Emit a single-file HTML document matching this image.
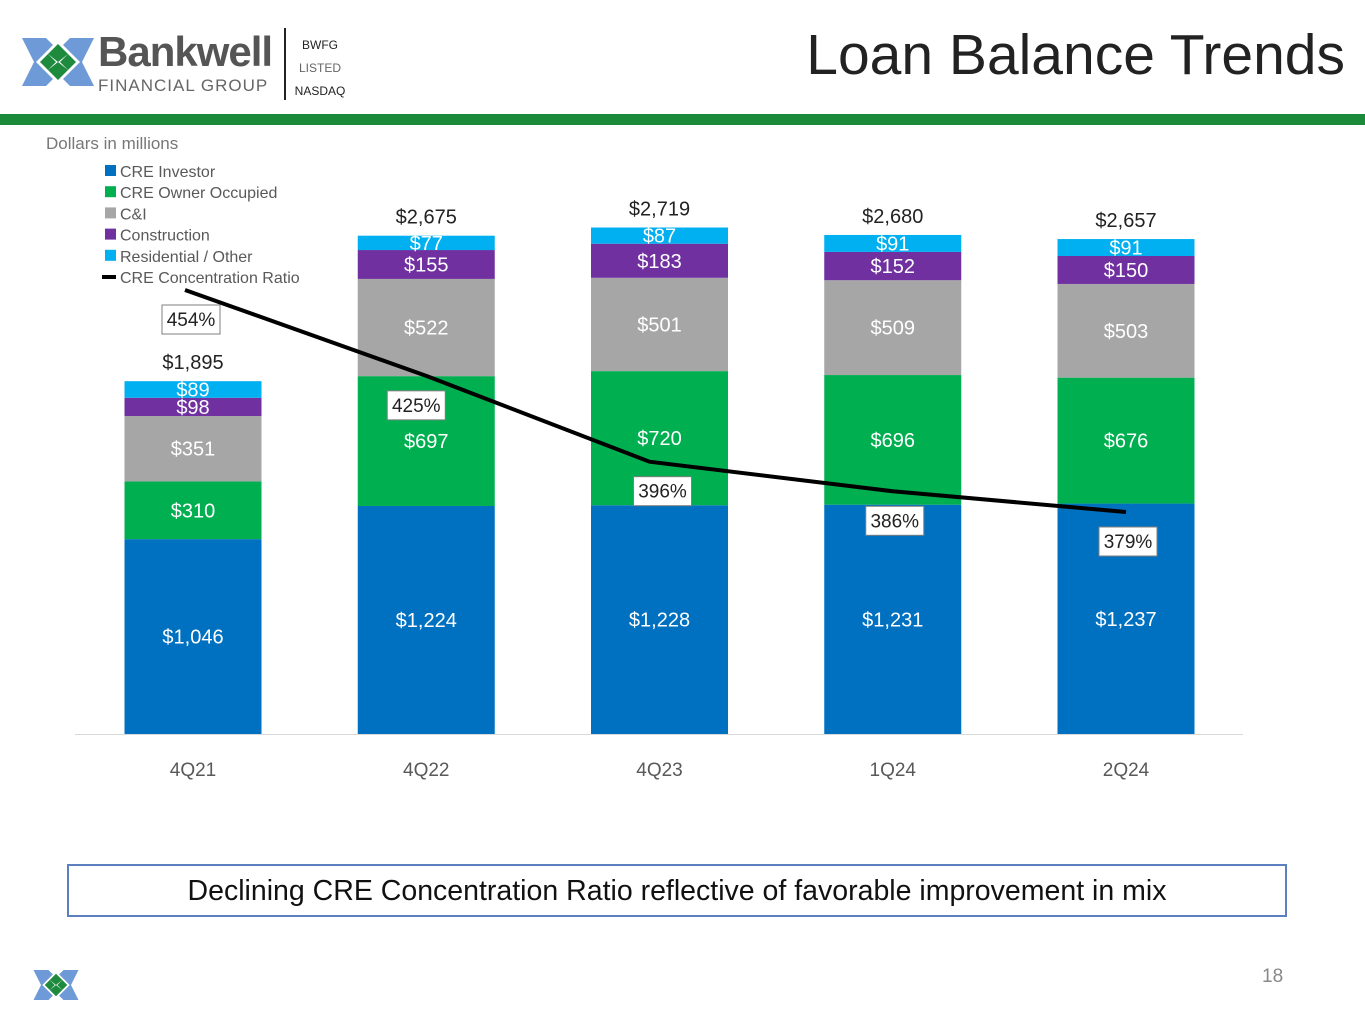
<!DOCTYPE html>
<html><head><meta charset="utf-8"><style>
body{margin:0;width:1365px;height:1024px;background:#fff;font-family:"Liberation Sans",sans-serif;overflow:hidden;position:relative}
.abs{position:absolute}
</style></head><body>
<div class="abs" style="left:18px;top:22px;width:340px;height:80px">
<svg width="80" height="80" viewBox="0 0 80 80">
<polygon points="4,16 28,16 40,28 52,16 76,16 64,40 76,64 52,64 40,52 28,64 4,64 16,40" fill="#6f9ad8"/>
<polygon points="40,18 62,40 40,62 18,40" fill="#fff"/>
<polygon points="40,22 50,32 40,40 30,32" fill="#1e8a3e"/><polygon points="40,40 50,48 40,58 30,48" fill="#1e8a3e"/>
<polygon points="22,40 30,32 38,40 30,48" fill="#1e8a3e"/><polygon points="42,40 50,32 58,40 50,48" fill="#1e8a3e"/>
</svg>
<div class="abs" style="left:80px;top:6px;font-size:42px;font-weight:bold;color:#555;letter-spacing:-1px">Bankwell</div>
<div class="abs" style="left:80px;top:54px;font-size:17px;color:#666;letter-spacing:1px">FINANCIAL GROUP</div>
<div class="abs" style="left:266px;top:6px;width:2px;height:72px;background:#222"></div>
<div class="abs" style="left:274px;top:12px;font-size:12px;color:#222;line-height:23px;text-align:center;width:56px">BWFG<br><span style="color:#666">LISTED</span><br>NASDAQ</div>
</div>
<div class="abs" style="right:20px;top:22px;font-size:57px;color:#222">Loan Balance Trends</div>
<div class="abs" style="left:0;top:114px;width:1365px;height:11px;background:#1c8a3b"></div>
<div class="abs" style="left:46px;top:134px;font-size:17px;color:#777">Dollars in millions</div>
<svg class="abs" style="left:0;top:0" width="1365" height="1024" id="chart"></svg>
<div class="abs" style="left:67px;top:864px;width:1216px;height:49px;border:2px solid #5b7fbf;text-align:center;line-height:50px;font-size:28.5px;color:#111">Declining CRE Concentration Ratio reflective of favorable improvement in mix</div>
<div class="abs" style="left:1262px;top:966px;font-size:19px;color:#888">18</div>
<svg class="abs" style="left:30px;top:960px" width="52" height="50" viewBox="0 0 80 80">
<polygon points="4,16 28,16 40,28 52,16 76,16 64,40 76,64 52,64 40,52 28,64 4,64 16,40" fill="#6f9ad8"/>
<polygon points="40,18 62,40 40,62 18,40" fill="#fff"/>
<polygon points="40,22 50,32 40,40 30,32" fill="#1e8a3e"/><polygon points="40,40 50,48 40,58 30,48" fill="#1e8a3e"/>
<polygon points="22,40 30,32 38,40 30,48" fill="#1e8a3e"/><polygon points="42,40 50,32 58,40 50,48" fill="#1e8a3e"/>
</svg>
<script>
const categories=["4Q21","4Q22","4Q23","1Q24","2Q24"];
const creInvestor=[1046,1224,1228,1231,1237];
const creOwner=[310,697,720,696,676];
const cni=[351,522,501,509,503];
const construction=[98,155,183,152,150];
const residential=[89,77,87,91,91];
const totals=[1895,2675,2719,2680,2657];
const ratio=[454,425,396,386,379];
const seriesNames=["CRE Investor","CRE Owner Occupied","C&I","Construction","Residential / Other"];
const seriesData=[creInvestor,creOwner,cni,construction,residential];
const colors=["#0070c0","#00b050","#a6a6a6","#7030a0","#00b0f0"];
const svg=document.getElementById('chart');const NS="http://www.w3.org/2000/svg";
function mk(t,a,txt){const e=document.createElementNS(NS,t);for(const k in a)e.setAttribute(k,a[k]);if(txt!==undefined)e.textContent=txt;svg.appendChild(e);return e;}
const base=734,scale=353/1895;
const xC=i=>193+i*233.25;const yV=v=>base-v*scale;
const yR=r=>290+(454-r)*2.96;
const bw=137;
const ax=mk('line',{x1:75,x2:1243,y1:734.5,y2:734.5,stroke:'#d9d9d9','stroke-width':1});

categories.forEach((c,i)=>{
 let cum=0;
 seriesData.forEach((s,j)=>{
  const v=s[i];const y0=yV(cum),y1=yV(cum+v);
  const r=mk('rect',{x:xC(i)-bw/2,y:y1,width:bw,height:y0-y1,fill:colors[j]});
  
  
  const t=mk('text',{x:xC(i),y:(y0+y1)/2+7,'text-anchor':'middle','font-size':20,fill:'#fff','font-family':'Liberation Sans'},'$'+v.toLocaleString('en-US'));
  
  
  cum+=v;
 });
 const tl=mk('text',{x:xC(i),y:yV(totals[i])-12,'text-anchor':'middle','font-size':20,fill:'#222','font-family':'Liberation Sans'},'$'+totals[i].toLocaleString('en-US'));
 
 
 const xl=mk('text',{x:xC(i),y:776,'text-anchor':'middle','font-size':19,fill:'#595959','font-family':'Liberation Sans'},c);
 
 
});
const pts=ratio.map((r,i)=>(i==0?xC(i)-8:xC(i)-(i==2?10:0))+','+yR(r)).join(' ');
const pl=mk('polyline',{points:pts,fill:'none',stroke:'#000','stroke-width':4});


ratio.forEach((r,i)=>{
 const cy=yR(r)+29;const cx=xC(i)-(i==0?2:(i==1?10:(i==2?-3:-2)));
 const b=mk('rect',{x:cx-29,y:cy-14,width:58,height:29,fill:'#fff',stroke:'#7f7f7f','stroke-width':1});
 
 
 const t=mk('text',{x:cx,y:cy+7,'text-anchor':'middle','font-size':19,fill:'#222','font-family':'Liberation Sans'},r+'%');
 
 
});
const legNames=seriesNames.concat(["CRE Concentration Ratio"]);
legNames.forEach((n,i)=>{
 const y=171+i*21.2;
 if(i<5){const s=mk('rect',{x:105,y:y-6,width:11,height:11,fill:colors[i]});
 
 }
 else{const s=mk('rect',{x:102,y:y-2,width:14,height:4,fill:'#000'});
 
 }
 const t=mk('text',{x:120,y:y+6,'font-size':16,fill:'#595959','font-family':'Liberation Sans'},n);
 
 
});
</script>
</body></html>
